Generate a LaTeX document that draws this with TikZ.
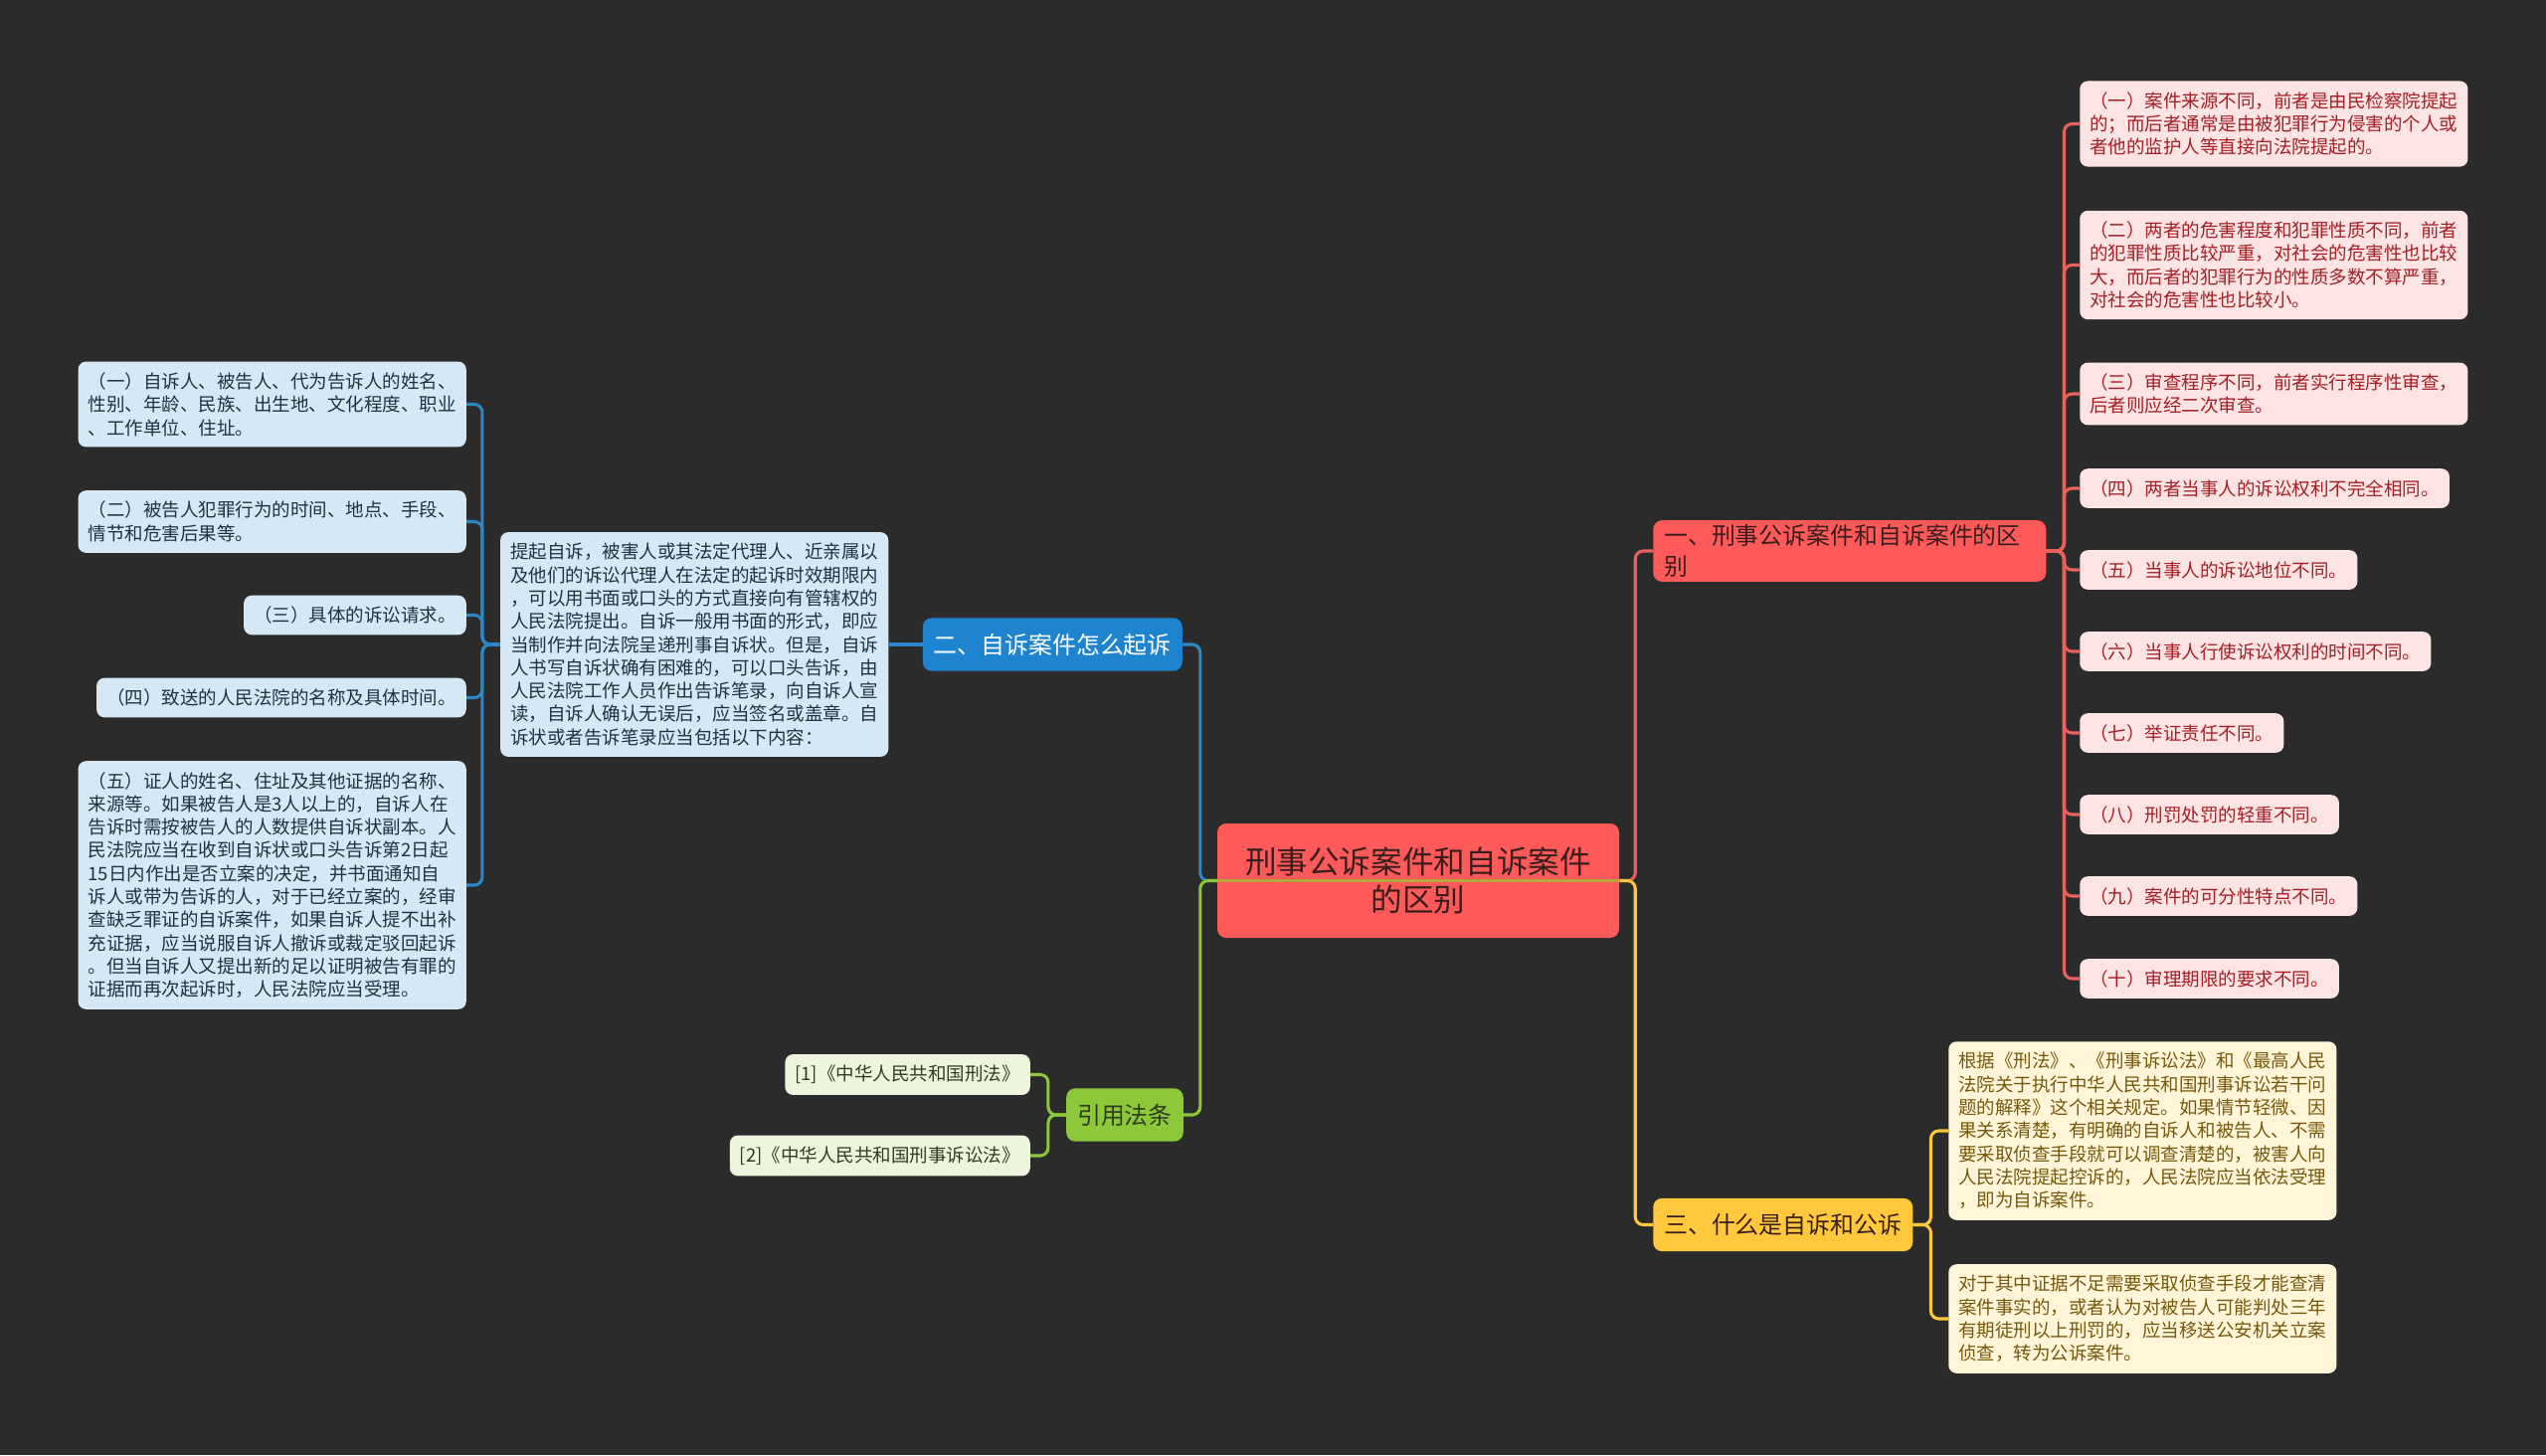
\documentclass[tikz,border=0pt]{standalone}
\usepackage{fontspec}
\setmainfont{Noto Sans CJK SC}
\usetikzlibrary{positioning}
\definecolor{fondo}{HTML}{2B2B2B}
\definecolor{rojo}{HTML}{FF5A5A}
\definecolor{rojoclaro}{HTML}{FDE4E4}
\definecolor{rojotexto}{HTML}{A31F24}
\definecolor{rojolinea}{HTML}{E9615F}
\definecolor{azul}{HTML}{1F84CF}
\definecolor{azulclaro}{HTML}{D6E8F5}
\definecolor{azultexto}{HTML}{1E3244}
\definecolor{azullinea}{HTML}{2E86C6}
\definecolor{verde}{HTML}{8CC83A}
\definecolor{verdeclaro}{HTML}{EEF5DE}
\definecolor{verdetexto}{HTML}{2F3D1E}
\definecolor{amarillo}{HTML}{FFC83D}
\definecolor{amarilloclaro}{HTML}{FFF6DA}
\definecolor{amarillotexto}{HTML}{77580A}
\definecolor{oliva}{HTML}{B7A63A}
\definecolor{oscuro}{HTML}{3A1E1E}

\begin{document}
\begin{tikzpicture}[x=0.3mm, y=-0.3mm,
      root/.style={fill=rojo, text=oscuro, rounded corners=2.7mm, minimum width=121.2mm,
                   minimum height=34.5mm, align=center, font=\fontsize{27}{32.7}\selectfont},
      br/.style={rounded corners=2.7mm, inner xsep=3.3mm, minimum height=16mm, align=left,
                 font=\fontsize{20.4}{27}\selectfont},
      lf/.style={rounded corners=2.4mm, inner xsep=3mm, inner ysep=3.3mm, align=left,
                 font=\fontsize{15.8}{19.9}\selectfont},
      ln/.style={line width=2.6pt, rounded corners=2.4mm}]
    \fill[fondo] (0,0) rectangle (2560,1463);
    \node[root] (c) at (1426,885.5) {刑事公诉案件和自诉案件\\的区别};
    % ramas
    \node[br, fill=rojo, text=oscuro, text width=111.9mm, anchor=west] (r) at (1662,554) {一、刑事公诉案件和自诉案件的区\\别};
    \node[br, fill=azul, text=white, anchor=east] (a) at (1189,648) {二、自诉案件怎么起诉};
    \node[br, fill=amarillo, text=oscuro, anchor=west] (y) at (1662,1231.5) {三、什么是自诉和公诉};
    \node[br, fill=verde, text=verdetexto, anchor=east] (v) at (1190,1121) {引用法条};
    % hojas rojas
    \node[lf, fill=rojoclaro, text=rojotexto, anchor=west] (r1) at (2091,124.5) {（一）案件来源不同，前者是由民检察院提起\\的；而后者通常是由被犯罪行为侵害的个人或\\者他的监护人等直接向法院提起的。};
    \node[lf, fill=rojoclaro, text=rojotexto, anchor=west] (r2) at (2091,266.5) {（二）两者的危害程度和犯罪性质不同，前者\\的犯罪性质比较严重，对社会的危害性也比较\\大，而后者的犯罪行为的性质多数不算严重，\\对社会的危害性也比较小。};
    \node[lf, fill=rojoclaro, text=rojotexto, anchor=west] (r3) at (2091,396) {（三）审查程序不同，前者实行程序性审查，\\后者则应经二次审查。};
    \node[lf, fill=rojoclaro, text=rojotexto, anchor=west] (r4) at (2091,491) {（四）两者当事人的诉讼权利不完全相同。};
    \node[lf, fill=rojoclaro, text=rojotexto, anchor=west] (r5) at (2091,573) {（五）当事人的诉讼地位不同。};
    \node[lf, fill=rojoclaro, text=rojotexto, anchor=west] (r6) at (2091,655) {（六）当事人行使诉讼权利的时间不同。};
    \node[lf, fill=rojoclaro, text=rojotexto, anchor=west] (r7) at (2091,737) {（七）举证责任不同。};
    \node[lf, fill=rojoclaro, text=rojotexto, anchor=west] (r8) at (2091,819) {（八）刑罚处罚的轻重不同。};
    \node[lf, fill=rojoclaro, text=rojotexto, anchor=west] (r9) at (2091,901) {（九）案件的可分性特点不同。};
    \node[lf, fill=rojoclaro, text=rojotexto, anchor=west] (r10) at (2091,984) {（十）审理期限的要求不同。};
    % hojas azules
    \node[lf, fill=azulclaro, text=azultexto, left=10.2mm of a] (am) {提起自诉，被害人或其法定代理人、近亲属以\\及他们的诉讼代理人在法定的起诉时效期限内\\，可以用书面或口头的方式直接向有管辖权的\\人民法院提出。自诉一般用书面的形式，即应\\当制作并向法院呈递刑事自诉状。但是，自诉\\人书写自诉状确有困难的，可以口头告诉，由\\人民法院工作人员作出告诉笔录，向自诉人宣\\读，自诉人确认无误后，应当签名或盖章。自\\诉状或者告诉笔录应当包括以下内容：};
    \node[lf, fill=azulclaro, text=azultexto, anchor=east] (a1) at (469,406.5) {（一）自诉人、被告人、代为告诉人的姓名、\\性别、年龄、民族、出生地、文化程度、职业\\、工作单位、住址。};
    \node[lf, fill=azulclaro, text=azultexto, anchor=east] (a2) at (469,524.5) {（二）被告人犯罪行为的时间、地点、手段、\\情节和危害后果等。};
    \node[lf, fill=azulclaro, text=azultexto, anchor=east] (a3) at (469,618.5) {（三）具体的诉讼请求。};
    \node[lf, fill=azulclaro, text=azultexto, anchor=east] (a4) at (469,701.5) {（四）致送的人民法院的名称及具体时间。};
    \node[lf, fill=azulclaro, text=azultexto, anchor=east] (a5) at (469,890) {（五）证人的姓名、住址及其他证据的名称、\\来源等。如果被告人是3人以上的，自诉人在\\告诉时需按被告人的人数提供自诉状副本。人\\民法院应当在收到自诉状或口头告诉第2日起\\15日内作出是否立案的决定，并书面通知自\\诉人或带为告诉的人，对于已经立案的，经审\\查缺乏罪证的自诉案件，如果自诉人提不出补\\充证据，应当说服自诉人撤诉或裁定驳回起诉\\。但当自诉人又提出新的足以证明被告有罪的\\证据而再次起诉时，人民法院应当受理。};
    % hojas verdes y amarillas
    \node[lf, fill=verdeclaro, text=verdetexto, anchor=east] (v1) at (1036,1080.5) {[1]《中华人民共和国刑法》};
    \node[lf, fill=verdeclaro, text=verdetexto, anchor=east] (v2) at (1036,1162) {[2]《中华人民共和国刑事诉讼法》};
    \node[lf, fill=amarilloclaro, text=amarillotexto, anchor=west] (y1) at (1959,1137) {根据《刑法》、《刑事诉讼法》和《最高人民\\法院关于执行中华人民共和国刑事诉讼若干问\\题的解释》这个相关规定。如果情节轻微、因\\果关系清楚，有明确的自诉人和被告人、不需\\要采取侦查手段就可以调查清楚的，被害人向\\人民法院提起控诉的，人民法院应当依法受理\\，即为自诉案件。};
    \node[lf, fill=amarilloclaro, text=amarillotexto, anchor=west] (y2) at (1959,1326) {对于其中证据不足需要采取侦查手段才能查清\\案件事实的，或者认为对被告人可能判处三年\\有期徒刑以上刑罚的，应当移送公安机关立案\\侦查，转为公诉案件。};
    % conexiones
    \draw[ln, azullinea] (c.west) -- ++(-17,0) |- (a.east);
    \draw[ln, verde] (c.west) -- ++(-17,0) |- (v.east);
    \draw[ln, rojolinea] (c.east) -- ++(16,0) |- (r.west);
    \draw[ln, amarillo] (c.east) -- ++(16,0) |- (y.west);
    \draw[line width=2.6pt, oliva] (c.west) -- (c.east);
    \draw[ln, rojolinea] (r.east) -- ++(18,0) |- (r1.west);
    \draw[ln, rojolinea] (r.east) -- ++(18,0) |- (r2.west);
    \draw[ln, rojolinea] (r.east) -- ++(18,0) |- (r3.west);
    \draw[ln, rojolinea] (r.east) -- ++(18,0) |- (r4.west);
    \draw[ln, rojolinea] (r.east) -- ++(18,0) |- (r5.west);
    \draw[ln, rojolinea] (r.east) -- ++(18,0) |- (r6.west);
    \draw[ln, rojolinea] (r.east) -- ++(18,0) |- (r7.west);
    \draw[ln, rojolinea] (r.east) -- ++(18,0) |- (r8.west);
    \draw[ln, rojolinea] (r.east) -- ++(18,0) |- (r9.west);
    \draw[ln, rojolinea] (r.east) -- ++(18,0) |- (r10.west);
    \draw[ln, azullinea] (a.west) -- (am.east);
    \draw[ln, azullinea] (am.west) -- ++(-18,0) |- (a1.east);
    \draw[ln, azullinea] (am.west) -- ++(-18,0) |- (a2.east);
    \draw[ln, azullinea] (am.west) -- ++(-18,0) |- (a3.east);
    \draw[ln, azullinea] (am.west) -- ++(-18,0) |- (a4.east);
    \draw[ln, azullinea] (am.west) -- ++(-18,0) |- (a5.east);
    \draw[ln, verde] (v.west) -- ++(-18,0) |- (v1.east);
    \draw[ln, verde] (v.west) -- ++(-18,0) |- (v2.east);
    \draw[ln, amarillo] (y.east) -- ++(18,0) |- (y1.west);
    \draw[ln, amarillo] (y.east) -- ++(18,0) |- (y2.west);
  \end{tikzpicture}
\end{document}
